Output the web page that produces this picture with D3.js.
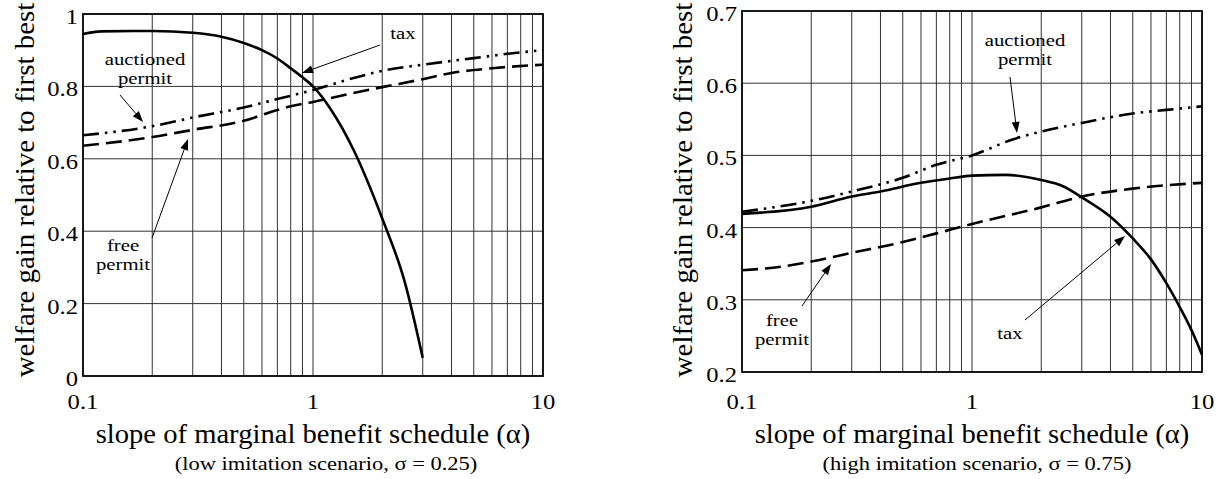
<!DOCTYPE html>
<html lang="en">
<head>
<meta charset="UTF-8">
<title>Welfare gain vs slope of marginal benefit schedule</title>
<script src="https://d3js.org/d3.v7.min.js"></script>
<style>
    body { margin: 0; background: #fff; }
    svg { display: block; font-family: "Liberation Serif", "DejaVu Serif", serif; }
    .grid line { stroke: #333; stroke-width: 1; }
    .frame { fill: none; stroke: #000; stroke-width: 1.8; }
    .tick-label { font-size: 22px; fill: #000; }
    .axis-title { font-size: 27px; fill: #000; }
    .sub-title { font-size: 18px; fill: #000; }
    .note { font-size: 17px; fill: #000; }
    .curve { fill: none; stroke: #000; stroke-width: 2.6; }
    .arrow { stroke: #000; stroke-width: 1; }
</style>
</head>
<body>
<svg width="1225" height="479"></svg>
<script>
// x ticks (log scale) and y ticks
const xTickLabels = [0.1, 1, 10];
const xGridValues = [0.2, 0.3, 0.4, 0.5, 0.6, 0.7, 0.8, 0.9, 1, 2, 3, 4, 5, 6, 7, 8, 9];
const yTicksLow = [0, 0.2, 0.4, 0.6, 0.8, 1];
const yTicksHigh = [0.2, 0.3, 0.4, 0.5, 0.6, 0.7];

// low imitation scenario (sigma = 0.25)
const lowTax = [[0.1,0.945],[0.12,0.952],[0.2,0.953],[0.3,0.948],[0.4,0.937],[0.5,0.92],[0.6,0.9],[0.7,0.877],[0.8,0.85],[0.9,0.825],[1,0.8],[1.2,0.735],[1.5,0.625],[2,0.435],[2.5,0.262],[3,0.05]];
const lowAuctioned = [[0.1,0.665],[0.2,0.69],[0.3,0.714],[0.5,0.742],[0.7,0.765],[1,0.79],[1.5,0.823],[2,0.843],[3,0.86],[5,0.878],[7,0.89],[10,0.9]];
const lowFree = [[0.1,0.636],[0.2,0.66],[0.3,0.68],[0.5,0.705],[0.7,0.735],[0.8,0.745],[1,0.757],[1.5,0.782],[2,0.798],[3,0.82],[4,0.837],[6,0.85],[10,0.86]];

// high imitation scenario (sigma = 0.75)
const highTax = [[0.1,0.419],[0.2,0.429],[0.3,0.443],[0.4,0.45],[0.6,0.462],[0.8,0.468],[1,0.472],[1.4,0.473],[2,0.466],[2.5,0.457],[3,0.442],[4,0.415],[5,0.385],[6,0.356],[7,0.323],[8,0.29],[9,0.258],[10,0.224]];
const highAuctioned = [[0.1,0.422],[0.2,0.437],[0.3,0.45],[0.5,0.469],[0.7,0.487],[1,0.5],[1.5,0.522],[2,0.533],[3,0.545],[5,0.558],[7,0.563],[10,0.568]];
const highFree = [[0.1,0.341],[0.15,0.346],[0.2,0.353],[0.3,0.365],[0.5,0.38],[0.7,0.392],[1,0.405],[2,0.428],[3,0.443],[5,0.454],[10,0.462]];

const svg = d3.select("svg");

const panels = [
    {
        left: 83, right: 543, top: 14, bottom: 376,
        yDomain: [0, 1], yTicks: yTicksLow, yFormat: d => d === 0 || d === 1 ? String(d) : d.toFixed(1),
        yTitleX: 34, subtitle: "(low imitation scenario, \u03c3 = 0.25)", subX: 326,
        series: { tax: lowTax, auctioned: lowAuctioned, free: lowFree },
        notes: [
            { lines: ["auctioned", "permit"], x: 145, y: 65, from: [120, 95], to: [143, 122] },
            { lines: ["free", "permit"], x: 123, y: 251, from: [152, 238], to: [188, 139] },
            { lines: ["tax"], x: 403, y: 39, from: [380, 45], to: [302, 73] }
        ]
    },
    {
        left: 742, right: 1202, top: 11, bottom: 372,
        yDomain: [0.2, 0.7], yTicks: yTicksHigh, yFormat: d => d.toFixed(1),
        yTitleX: 692, subtitle: "(high imitation scenario, \u03c3 = 0.75)", subX: 977,
        series: { tax: highTax, auctioned: highAuctioned, free: highFree },
        notes: [
            { lines: ["auctioned", "permit"], x: 1025, y: 46, from: [1010, 77], to: [1017, 133] },
            { lines: ["free", "permit"], x: 782, y: 326, from: [802, 306], to: [831, 264] },
            { lines: ["tax"], x: 1010, y: 339, from: [1025, 320], to: [1125, 236] }
        ]
    }
];

const dashes = { tax: null, free: "16,7", auctioned: "16,6,2.5,6,2.5,6" };

// the original figure is a bit wider than plain Times, so stretch text sideways
function label(g, cls, x, y, txt, anchor, sx, rot) {
    return g.append("text").attr("class", cls)
        .attr("transform", `translate(${x},${y}) rotate(${rot || 0}) scale(${sx},1)`)
        .attr("text-anchor", anchor)
        .text(txt);
}

panels.forEach(function(p) {
    const x = d3.scaleLog().domain([0.1, 10]).range([p.left, p.right]);
    const y = d3.scaleLinear().domain(p.yDomain).range([p.bottom, p.top]);
    const g = svg.append("g");

    const grid = g.append("g").attr("class", "grid");
    grid.selectAll("line.v").data(xGridValues).enter().append("line")
        .attr("x1", d => x(d)).attr("x2", d => x(d))
        .attr("y1", p.top).attr("y2", p.bottom);
    grid.selectAll("line.h").data(p.yTicks.slice(1, -1)).enter().append("line")
        .attr("x1", p.left).attr("x2", p.right)
        .attr("y1", d => y(d)).attr("y2", d => y(d));

    g.append("rect").attr("class", "frame")
        .attr("x", p.left).attr("y", p.top)
        .attr("width", p.right - p.left).attr("height", p.bottom - p.top);

    p.yTicks.forEach(function(d) {
        label(g, "tick-label", p.left - 5, y(d) + 10, p.yFormat(d), "end", 1.12);
    });

    xTickLabels.forEach(function(d) {
        label(g, "tick-label", x(d), 409, String(d), "middle", 1.12);
    });

    label(g, "axis-title", (p.left + p.right) / 2, 443, "slope of marginal benefit schedule (\u03b1)", "middle", 1.06);
    label(g, "sub-title", p.subX, 470, p.subtitle, "middle", 1.25);
    label(g, "axis-title", p.yTitleX, 190, "welfare gain relative to first best", "middle", 1.07, -90);

    const line = d3.line()
        .x(d => x(d[0])).y(d => y(d[1]))
        .curve(d3.curveMonotoneX);

    ["free", "auctioned", "tax"].forEach(function(k) {
        g.append("path").attr("class", "curve")
            .attr("d", line(p.series[k]))
            .attr("stroke-dasharray", dashes[k]);
    });

    p.notes.forEach(function(n) {
        n.lines.forEach(function(t, i) {
            label(g, "note", n.x, n.y + i * 19, t, "middle", 1.22);
        });
        const dx = n.to[0] - n.from[0], dy = n.to[1] - n.from[1];
        const len = Math.sqrt(dx * dx + dy * dy);
        const ux = dx / len, uy = dy / len;
        const hl = 11, hw = 4;
        const bx = n.to[0] - ux * hl, by = n.to[1] - uy * hl;
        g.append("line").attr("class", "arrow")
            .attr("x1", n.from[0]).attr("y1", n.from[1])
            .attr("x2", bx).attr("y2", by);
        g.append("path")
            .attr("d", `M${n.to[0]},${n.to[1]}L${bx - uy * hw},${by + ux * hw}L${bx + uy * hw},${by - ux * hw}Z`)
            .attr("fill", "#000");
    });
});
</script>
</body>
</html>
